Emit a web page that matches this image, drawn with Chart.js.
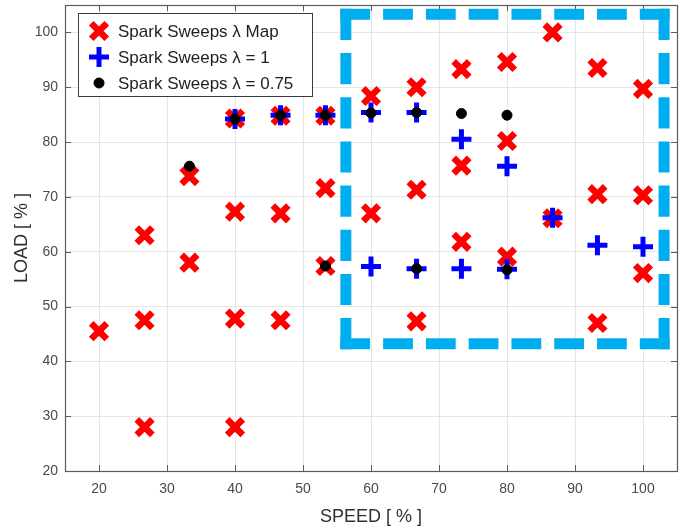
<!DOCTYPE html>
<html>
<head>
<meta charset="utf-8">
<script src="https://cdn.jsdelivr.net/npm/chart.js@4/dist/chart.umd.min.js"></script>
<style>
  html, body { margin: 0; padding: 0; background: #ffffff; }
  #wrap { width: 683px; height: 531px; }
</style>
</head>
<body>
<div id="wrap"><canvas id="chart" width="683" height="531"></canvas></div>
<script>
// Spark sweep operating points, SPEED [%] vs LOAD [%]
const mapSpeed = [20, 26.7, 26.7, 26.7, 33.3, 33.3, 40, 40, 40, 40, 46.7, 46.7, 46.7, 53.3, 53.3, 53.3,
  60, 60, 66.7, 66.7, 66.7, 73.3, 73.3, 73.3, 80, 80, 80, 86.7, 86.7, 93.3, 93.3, 93.3, 100, 100, 100];
const mapLoad = [45.5, 63, 47.5, 28, 73.8, 58, 84.3, 67.3, 47.8, 28, 84.8, 67, 47.5, 84.8, 71.6, 57.4,
  88.4, 67, 90, 71.3, 47.3, 93.3, 75.7, 61.8, 94.6, 80.2, 59.1, 100, 66.1, 93.5, 70.5, 47, 89.7, 70.3, 56.1];

const lambda1Speed = [40, 46.7, 53.3, 60, 66.7, 73.3, 80, 86.7, 93.3, 100, 60, 66.7, 73.3, 80];
const lambda1Load = [84.2, 84.9, 84.9, 85.4, 85.4, 80.5, 75.6, 66.2, 61.2, 60.9, 57.3, 56.9, 56.9, 56.8];

const lambda075Speed = [33.3, 40, 46.7, 53.3, 53.3, 60, 66.7, 73.3, 80, 66.7, 80];
const lambda075Load = [75.6, 84.2, 84.9, 84.9, 57.4, 85.3, 85.4, 85.2, 84.9, 56.9, 56.7];

const speedTicks = [20, 30, 40, 50, 60, 70, 80, 90, 100];
const loadTicks = [20, 30, 40, 50, 60, 70, 80, 90, 100];

// Highlighted high-speed region (SPEED, LOAD bounds)
const focusSpeed = [56.3, 103.1];
const focusLoad = [43.2, 103.3];

const seriesLabels = ['Spark Sweeps \u03bb Map', 'Spark Sweeps \u03bb = 1', 'Spark Sweeps \u03bb = 0.75'];

function toPoints(xs, ys) { return xs.map((x, i) => ({ x: x, y: ys[i] })); }

const FONT = '"Liberation Sans", Arial, Helvetica, sans-serif';

// White page background
const backgroundPlugin = {
  id: 'bg',
  beforeDraw(chart) {
    const ctx = chart.ctx;
    ctx.save();
    ctx.fillStyle = '#ffffff';
    ctx.fillRect(0, 0, chart.width, chart.height);
    ctx.restore();
  }
};

// Axes box with inward tick marks on all four sides
const boxPlugin = {
  id: 'box',
  beforeDatasetsDraw(chart) {
    const { ctx, chartArea: a, scales } = chart;
    const len = 6;
    ctx.save();
    ctx.strokeStyle = '#5a5a5a';
    ctx.lineWidth = 1;
    ctx.beginPath();
    scales.x.ticks.forEach(t => {
      const px = Math.round(scales.x.getPixelForValue(t.value)) + 0.5;
      ctx.moveTo(px, a.bottom); ctx.lineTo(px, a.bottom - len);
      ctx.moveTo(px, a.top); ctx.lineTo(px, a.top + len);
    });
    scales.y.ticks.forEach(t => {
      const py = Math.round(scales.y.getPixelForValue(t.value)) + 0.5;
      ctx.moveTo(a.left, py); ctx.lineTo(a.left + len, py);
      ctx.moveTo(a.right, py); ctx.lineTo(a.right - len, py);
    });
    ctx.stroke();
    ctx.lineWidth = 1.2;
    ctx.strokeRect(Math.round(a.left) + 0.5, Math.round(a.top) + 0.5,
      Math.round(a.right - a.left), Math.round(a.bottom - a.top));
    ctx.restore();
  }
};

// Dashed frame around the focus region, each side starting and ending on a dash
const focusPlugin = {
  id: 'focus',
  afterDatasetsDraw(chart) {
    const { ctx, scales } = chart;
    const x0 = scales.x.getPixelForValue(focusSpeed[0]);
    const x1 = scales.x.getPixelForValue(focusSpeed[1]);
    const y0 = scales.y.getPixelForValue(focusLoad[1]);
    const y1 = scales.y.getPixelForValue(focusLoad[0]);
    const lw = 11, gap = 13, dashTarget = 31;
    const h = lw / 2;
    const sides = [
      [x0 - h, y0, x1 + h, y0],
      [x1, y0 - h, x1, y1 + h],
      [x1 + h, y1, x0 - h, y1],
      [x0, y1 + h, x0, y0 - h]
    ];
    ctx.save();
    ctx.strokeStyle = '#00aeef';
    ctx.lineWidth = lw;
    ctx.lineCap = 'butt';
    sides.forEach(([ax, ay, bx, by]) => {
      const L = Math.hypot(bx - ax, by - ay);
      const n = Math.max(1, Math.round((L + gap) / (dashTarget + gap)));
      const d = (L - (n - 1) * gap) / n;
      ctx.setLineDash([d, gap]);
      ctx.beginPath();
      ctx.moveTo(ax, ay);
      ctx.lineTo(bx, by);
      ctx.stroke();
    });
    ctx.restore();
  }
};

// Boxed legend in the upper-left corner of the plot area
const legendBoxPlugin = {
  id: 'legendBox',
  afterDraw(chart) {
    const { ctx, chartArea: a } = chart;
    const left = a.left + 13, top = a.top + 8, w = 234, hgt = 83;
    ctx.save();
    ctx.fillStyle = '#ffffff';
    ctx.fillRect(left, top, w, hgt);
    ctx.strokeStyle = '#3c3c3c';
    ctx.lineWidth = 1;
    ctx.strokeRect(Math.round(left) + 0.5, Math.round(top) + 0.5, w, hgt);
    chart.data.datasets.forEach((ds, row) => {
      const cy = top + 18 + row * 26;
      const cx = left + 21;
      ctx.save();
      ctx.strokeStyle = ds.borderColor;
      ctx.fillStyle = ds.backgroundColor;
      ctx.lineWidth = ds.borderWidth;
      Chart.helpers.drawPoint(ctx, {
        pointStyle: ds.pointStyle,
        radius: ds.pointRadius,
        borderWidth: ds.borderWidth,
        rotation: 0
      }, cx, cy);
      ctx.restore();
      ctx.fillStyle = '#1e1e1e';
      ctx.font = '17px ' + FONT;
      ctx.textAlign = 'left';
      ctx.textBaseline = 'middle';
      ctx.fillText(ds.label, left + 40, cy + 1);
    });
    ctx.restore();
  }
};

new Chart(document.getElementById('chart'), {
  type: 'scatter',
  data: {
    datasets: [
      {
        label: seriesLabels[0],
        data: toPoints(mapSpeed, mapLoad),
        pointStyle: 'crossRot',
        pointRadius: 11,
        borderWidth: 6.5,
        borderColor: '#ff0000',
        backgroundColor: '#ff0000',
        order: 3
      },
      {
        label: seriesLabels[1],
        data: toPoints(lambda1Speed, lambda1Load),
        pointStyle: 'cross',
        pointRadius: 10,
        borderWidth: 5,
        borderColor: '#0000ff',
        backgroundColor: '#0000ff',
        order: 2
      },
      {
        label: seriesLabels[2],
        data: toPoints(lambda075Speed, lambda075Load),
        pointStyle: 'circle',
        pointRadius: 5,
        borderWidth: 1,
        borderColor: '#000000',
        backgroundColor: '#000000',
        order: 1
      }
    ]
  },
  options: {
    responsive: false,
    animation: false,
    events: [],
    layout: { autoPadding: false, padding: { top: 5, right: 6, left: 0, bottom: 0 } },
    plugins: {
      legend: { display: false },
      tooltip: { enabled: false }
    },
    scales: {
      x: {
        type: 'linear',
        min: 15,
        max: 105,
        afterFit(scale) {
          scale.height = 60;
          scale.paddingLeft = 0;
          scale.paddingRight = 0;
        },
        afterBuildTicks(scale) { scale.ticks = speedTicks.map(v => ({ value: v })); },
        grid: { color: '#e6e6e6', lineWidth: 1, drawTicks: false },
        border: { display: false },
        ticks: {
          padding: 10,
          color: '#4a4a4a',
          font: { family: FONT, size: 14 },
          maxRotation: 0
        },
        title: {
          display: true,
          text: 'SPEED [ % ]',
          color: '#303030',
          font: { family: FONT, size: 18 },
          padding: { top: 0, bottom: 3 }
        }
      },
      y: {
        type: 'linear',
        min: 20,
        max: 105,
        afterFit(scale) {
          scale.width = 65;
          scale.paddingTop = 0;
          scale.paddingBottom = 0;
        },
        afterBuildTicks(scale) { scale.ticks = loadTicks.map(v => ({ value: v })); },
        grid: { color: '#e6e6e6', lineWidth: 1, drawTicks: false },
        border: { display: false },
        ticks: {
          padding: 7,
          color: '#4a4a4a',
          font: { family: FONT, size: 14 }
        },
        title: {
          display: true,
          text: 'LOAD [ % ]',
          color: '#303030',
          font: { family: FONT, size: 18 },
          padding: { top: 11, bottom: 0 }
        }
      }
    }
  },
  plugins: [backgroundPlugin, boxPlugin, focusPlugin, legendBoxPlugin]
});
</script>
</body>
</html>
